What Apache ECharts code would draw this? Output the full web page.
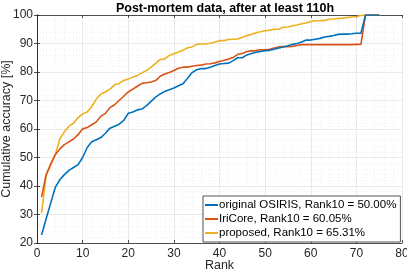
<!DOCTYPE html>
<html>
<head>
<meta charset="utf-8">
<script src="https://cdn.jsdelivr.net/npm/echarts@6/dist/echarts.min.js"></script>
<style>html,body{margin:0;padding:0;background:#fff}#c{width:407px;height:274px}</style>
</head>
<body>
<div id="c"></div>
<script>
const ranks = [];
for (let r = 1; r <= 75; r++) ranks.push(r);
const osiris = [22.8,28.5,34,39.5,42.2,44,45.5,46.5,47.5,50.0,53.5,55.5,56.2,57,58.5,60.3,61,61.7,63,65.5,66,66.7,67,68.2,69.7,71.2,72.3,73.2,73.8,74.4,75.2,75.9,77.8,79.8,80.8,81.2,81.2,81.7,82.3,82.8,83,83.1,84,85,85,86,86.5,86.9,87.2,87.5,87.6,88,88.4,88.8,89.2,89.7,90,90.5,91.2,91.2,91.5,91.8,92.3,92.5,92.8,93.2,93.3,93.3,93.4,93.6,93.6,100,100,100,100];
const iricore = [36.1,44,47.5,51,53,54.5,55.5,56.5,58,60.05,60.5,61.5,62.5,64.5,65.5,67.5,68.5,70,71.5,73,74,75,76,76.2,76.5,77,78.5,79.3,79.8,80.5,81.3,81.7,81.7,82,82.3,82.4,82.8,82.9,83.2,83.7,84.1,84.6,85.1,86.2,86.5,87.2,87.4,87.5,87.8,87.8,88,88.4,88.8,88.9,88.9,89,89.3,89.6,89.6,89.6,89.6,89.6,89.6,89.6,89.6,89.6,89.6,89.6,89.6,89.7,89.7,100,100,100,100];
const proposed = [30.5,43.5,47.8,51,56.5,59,61,62,64,65.31,66,67.8,70.5,72.3,73,74,75.5,76,77,77.5,78.2,78.8,79.7,80.5,81.7,83,84.4,84.6,85.8,86.4,87,87.6,88.5,88.8,89.7,89.8,89.8,90.1,90.5,91,91,91.4,91.5,91.6,92.2,92.8,93.2,93.8,94.1,94.5,94.7,95,95,95.7,95.8,96.2,96.5,96.9,97.2,97.7,98,98,98.1,98.5,98.6,98.8,98.9,99.1,99.3,99.5,99.8,100,100,100,100];
const seriesNames = ['original OSIRIS, Rank10 = 50.00%','IriCore, Rank10 = 60.05%','proposed, Rank10 = 65.31%'];
const colors = ['#0072BD','#D95319','#EDB120'];

const font = 'Liberation Sans, Arial, sans-serif';
const axisCol = '#262626';
function pairs(arr){ return arr.map((v,i)=>[ranks[i], v]); }
const baseAxis = {
  axisLine:{show:true, lineStyle:{color:axisCol, width:0.8}},
  axisTick:{show:true, inside:true, length:3, lineStyle:{color:axisCol, width:0.8}},
  minorTick:{show:false},
};
const chart = echarts.init(document.getElementById('c'), null, {renderer:'canvas'});
chart.setOption({
  animation:false,
  backgroundColor:'#fff',
  title:{text:'Post-mortem data, after at least 110h', left:220, textAlign:'center', top:-3,
    textStyle:{fontFamily:font, fontSize:12.5, fontWeight:'bold', color:'#000'}},
  grid:{left:37, right:5, top:15, bottom:31, outerBoundsMode:'none', containLabel:false},
  legend:{
    orient:'vertical', left:203, top:196, data:seriesNames,
    itemWidth:13, itemHeight:2, itemGap:0, padding:[2,4,2,2],
    backgroundColor:'#fff', borderColor:axisCol, borderWidth:0.8, borderRadius:0,
    icon:'rect',
    textStyle:{fontFamily:font, fontSize:11.5, lineHeight:14, color:'#000', padding:[0,0,0,-4]}
  },
  xAxis:[
    Object.assign({}, baseAxis, {type:'value', min:0, max:80, interval:10,
      axisLabel:{fontFamily:font, fontSize:12, color:axisCol, margin:5},
      name:'Rank', nameLocation:'middle', nameGap:16, nameMoveOverlap:false,
      nameTextStyle:{fontFamily:font, fontSize:12.5, color:axisCol},
      splitLine:{show:true, lineStyle:{color:'#e3e3e3', width:0.8}},
      minorSplitLine:{show:true, lineStyle:{color:'#eeeeee', width:0.8, type:[1,2]}},
      minorTick:{show:false, splitNumber:5}
    }),
    Object.assign({}, baseAxis, {type:'value', min:0, max:80, interval:10, position:'top',
      axisLabel:{show:false}, splitLine:{show:false}})
  ],
  yAxis:[
    Object.assign({}, baseAxis, {type:'value', min:20, max:100, interval:10,
      axisLabel:{fontFamily:font, fontSize:12, color:axisCol, margin:4},
      name:'Cumulative accuracy [%]', nameLocation:'middle', nameGap:24, nameMoveOverlap:false,
      nameTextStyle:{fontFamily:font, fontSize:12.5, color:axisCol},
      splitLine:{show:true, lineStyle:{color:'#e3e3e3', width:0.8}},
      minorSplitLine:{show:true, lineStyle:{color:'#eeeeee', width:0.8, type:[1,2]}},
      minorTick:{show:false, splitNumber:5}
    }),
    Object.assign({}, baseAxis, {type:'value', min:20, max:100, interval:10, position:'right',
      axisLabel:{show:false}, splitLine:{show:false}})
  ],
  series:[osiris, iricore, proposed].map((d,i)=>({
    name:seriesNames[i], type:'line', data:pairs(d), showSymbol:false, symbol:'none',
    xAxisIndex:0, yAxisIndex:0, z:3-i+2,
    lineStyle:{color:colors[i], width:1.6}, itemStyle:{color:colors[i]}
  }))
});
</script>
</body>
</html>
